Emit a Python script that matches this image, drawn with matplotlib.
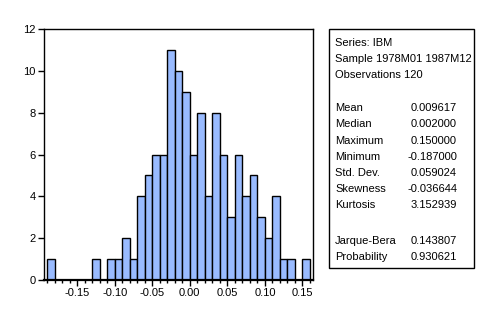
import matplotlib
matplotlib.use("Agg")
import matplotlib.pyplot as plt
import numpy as np
from matplotlib.patches import Rectangle
from matplotlib.ticker import MultipleLocator

plt.rcParams["font.family"] = ["Liberation Sans", "DejaVu Sans"]

# monthly IBM returns, histogram with 0.01 bins
bin_left = np.round(np.arange(-0.19, 0.155, 0.01), 2)
counts = [1, 0, 0, 0, 0, 0, 1,
          0, 1, 1, 2, 1,
          4, 5, 6, 6, 11, 10, 9,
          6, 8, 4, 8, 6, 3, 6,
          4, 5, 3, 2, 4, 1, 1,
          0, 1]

header = ["Series: IBM", "Sample 1978M01 1987M12", "Observations 120"]
stat_names = ["Mean", "Median", "Maximum", "Minimum", "Std. Dev.",
              "Skewness", "Kurtosis"]
stat_values = ["0.009617", "0.002000", "0.150000", "-0.187000",
               "0.059024", "-0.036644", "3.152939"]
test_names = ["Jarque-Bera", "Probability"]
test_values = ["0.143807", "0.930621"]

W, H = 499, 325
fig = plt.figure(figsize=(W / 100, H / 100), dpi=100)
ax = fig.add_axes([44 / W, 1 - 280 / H, (313 - 44) / W, (280 - 29) / H])

keep = [i for i, c in enumerate(counts) if c > 0]
ax.bar(bin_left[keep], np.array(counts)[keep], width=0.01, align="edge",
       color="#99bbff", edgecolor="black", linewidth=1.0)

ax.set_xlim(-0.194, 0.164)
ax.set_ylim(0, 12)
ax.xaxis.set_major_locator(MultipleLocator(0.05))
ax.xaxis.set_minor_locator(MultipleLocator(0.01))
ax.yaxis.set_major_locator(MultipleLocator(2))
ax.set_xticks([-0.15, -0.10, -0.05, 0.0, 0.05, 0.10, 0.15])
ax.set_xticklabels(["-0.15", "-0.10", "-0.05", "0.00", "0.05", "0.10", "0.15"])
ax.tick_params(axis="both", which="major", direction="out", length=4,
               width=1, labelsize=8, pad=2)
ax.tick_params(axis="x", which="minor", direction="out", length=2, width=1)
for s in ax.spines.values():
    s.set_linewidth(1.0)
ax.spines["bottom"].set_linewidth(1.6)

# summary statistics panel
fig.patches.append(Rectangle((329 / W, 1 - 268 / H), 145 / W, 239 / H,
                             transform=fig.transFigure, fill=False,
                             edgecolor="black", linewidth=1.0))

def put(px, py, s, ha="left"):
    fig.text(px / W, 1 - py / H, s, ha=ha, va="center", fontsize=8)

for y, s in zip([43, 59, 75], header):
    put(335, y, s)
ys = [108, 124, 141, 157, 173, 189, 205]
for y, n, v in zip(ys, stat_names, stat_values):
    put(335, y, n)
    put(457, y, v, ha="right")
for y, n, v in zip([241, 257], test_names, test_values):
    put(335, y, n)
    put(457, y, v, ha="right")

fig.savefig("out.png", dpi=100)
